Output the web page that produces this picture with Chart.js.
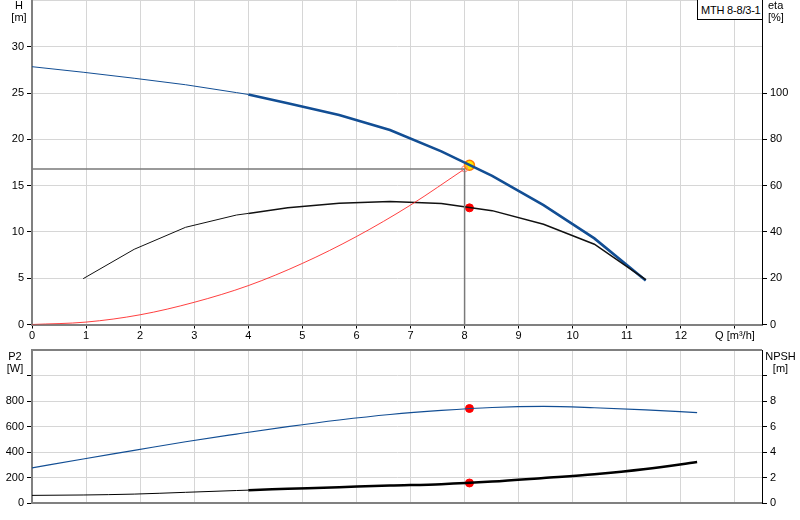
<!DOCTYPE html>
<html><head><meta charset="utf-8">
<script src="https://cdn.jsdelivr.net/npm/chart.js@4.4.1/dist/chart.umd.min.js"></script>
<style>
body{margin:0;background:#fff;}
#wrap{position:relative;width:800px;height:520px;overflow:hidden;background:#fff;font-family:"Liberation Sans",Arial,sans-serif;font-size:11px;color:#000;}
canvas{position:absolute;left:0;}
#c1{top:-6px;}
#c2{top:345px;}
.lbl{position:absolute;line-height:12px;white-space:nowrap;}
#box{position:absolute;left:697px;top:-1px;width:66px;height:21px;border:1px solid #000;background:#fff;box-sizing:border-box;padding:4px 0 0 3px;line-height:12px;white-space:nowrap;letter-spacing:-0.2px;z-index:2;}
</style></head>
<body>
<div id="wrap">
<canvas id="c1" width="800" height="351"></canvas>
<canvas id="c2" width="800" height="175"></canvas>
<div class="lbl" style="left:5px;top:-1px;width:28px;text-align:center;">H<br>[m]</div>
<div class="lbl" style="left:768px;top:-1px;">eta<br>[%]</div>
<div class="lbl" style="left:0px;top:350px;width:30px;text-align:center;">P2<br>[W]</div>
<div class="lbl" style="left:764px;top:350px;width:33px;text-align:center;">NPSH<br>[m]</div>
<div id="box">MTH 8-8/3-1</div>
</div>
<script>
// ---- data ----
const xTickValues = [0,1,2,3,4,5,6,7,8,9,10,11,12,13];
const xTickLabels = ['0','1','2','3','4','5','6','7','8','9','10','11','12','Q [m³/h]'];

const headQ = [0,0.946,1.89,2.84,3.78,4.0,4.73,5.68,6.62,7.57,8.51,9.46,10.4,11.35];
const headH = [27.85,27.25,26.6,25.9,25.05,24.85,23.9,22.63,21.0,18.7,16.05,12.9,9.3,4.75];

const etaQ = [0.946,1.89,2.84,3.78,4.0,4.73,5.68,6.62,7.57,8.51,9.46,10.4,11.35];
const etaV = [19.8,32.5,42.0,47.3,48.0,50.4,52.4,53.2,52.3,49.2,43.3,34.7,19.4];

const sysQ = [0,1,2,3,4,5,6,7,8.0];
const sysH = [0,0.26,1.05,2.4,4.2,6.6,9.5,12.9,16.8];

const guideQ = [0,8.0,8.0];
const guideH = [16.8,16.8,0];

const p2Q = [0,0.946,1.89,2.84,3.78,4.73,5.68,6.62,7.57,8.51,9.46,10.4,11.35,12.3];
const p2V = [278,347,414,482,542,600,652,695,727,750,758,748,732,710];

const npshQ = [0,0.946,1.89,2.84,3.78,4.0,4.73,5.68,6.62,7.57,8.51,9.46,10.4,11.35,12.3];
const npshV = [0.62,0.65,0.72,0.86,1.0,1.03,1.13,1.26,1.39,1.5,1.7,1.98,2.27,2.68,3.23];

const dutyQ = [8.09];
const dutyH = [17.2];
const dutyEta = [50.4];
const dutyP2 = [742];
const dutyNPSH = [1.59];

// ---- helpers ----
const pts = (xs, ys) => xs.map((x,i)=>({x:x, y:ys[i]}));
const font = {family:'"Liberation Sans", Arial, sans-serif', size:11};
const gridCol = '#d6d6d6';
const clear = 'rgba(0,0,0,0)';
const thick = w => ctx => ctx.p0.parsed.x >= 3.99 ? w : 1;
const noPad = s => { s.paddingTop = 0; s.paddingBottom = 0; s.paddingLeft = 0; s.paddingRight = 0; };
const base = {responsive:false, animation:false, events:[], devicePixelRatio:1,
  plugins:{legend:{display:false}, tooltip:{enabled:false}}};

const xScale = (showLabels, h) => ({
  type:'linear', min:0, max:13.5,
  afterBuildTicks: s => { s.ticks = xTickValues.map(v=>({value:v})); },
  ticks:{display:showLabels, font, color:'#000', padding:1, maxRotation:0, autoSkip:false,
    callback: (v) => { const i = xTickValues.indexOf(v); return i>=0 ? xTickLabels[i] : ''; }},
  grid:{color: c => (c.tick && c.tick.value===0) ? clear : gridCol, tickColor:'#000', tickLength:4, drawTicks:showLabels},
  border:{color:'#808080', width:2},
  afterFit: s => { s.height = h; noPad(s); }
});

// ---- top chart ----
new Chart(document.getElementById('c1'), {
  type:'line',
  data:{datasets:[
    {data:pts(guideQ,guideH), yAxisID:'yH', borderColor:'#7a7a7a', borderWidth:1.5, pointRadius:0, tension:0},
    {data:pts(sysQ,sysH), yAxisID:'yH', borderColor:'rgba(255,30,30,0.85)', borderWidth:1,
      pointRadius: c => c.dataIndex===sysQ.length-1 ? 3 : 0, pointBackgroundColor:clear,
      pointBorderColor:'rgba(255,120,120,0.9)', pointBorderWidth:1, cubicInterpolationMode:'monotone'},
    {data:pts(etaQ,etaV), yAxisID:'yEta', borderColor:'#111', borderWidth:1, segment:{borderWidth:thick(1.5)},
      pointRadius:0, tension:0},
    {data:pts(headQ,headH), yAxisID:'yH', borderColor:'#124e94', borderWidth:1, segment:{borderWidth:thick(2.6)},
      pointRadius:0, tension:0},
    {data:pts(dutyQ,dutyEta), yAxisID:'yEta', showLine:false, pointRadius:4, pointBackgroundColor:'#ff0000', pointBorderColor:'#ff0000'},
    {data:pts(dutyQ,dutyH), yAxisID:'yH', showLine:false, pointRadius:5, pointBackgroundColor:'#ffe800', pointBorderColor:'#ff7a00', pointBorderWidth:1.5}
  ]},
  options:Object.assign({}, base, {
    layout:{padding:{top:0,left:0,right:0,bottom:0}},
    scales:{
      x: xScale(true, 20.5),
      yH:{position:'left', min:0, max:35,
        ticks:{stepSize:5, font, color:'#000', padding:3, callback: v => v>30 ? '' : v},
        grid:{color: c => (c.tick && c.tick.value===0) ? clear : gridCol,
          tickColor: c => (c.tick && c.tick.value>30) ? clear : '#000', tickLength:5},
        border:{color:'#808080', width:2},
        afterFit: s => { s.width = 32; noPad(s); }},
      yEta:{position:'right', min:0, max:140,
        ticks:{stepSize:20, font, color:'#000', padding:3, callback: v => v>100 ? '' : v},
        grid:{drawOnChartArea:false, tickColor: c => (c.tick && c.tick.value>100) ? clear : '#000', tickLength:5},
        border:{color:'#000', width:1},
        afterFit: s => { s.width = 38; noPad(s); }}
    }
  })
});

// ---- bottom chart ----
new Chart(document.getElementById('c2'), {
  type:'line',
  data:{datasets:[
    {data:pts(p2Q,p2V), yAxisID:'yP', borderColor:'#124e94', borderWidth:1.2, pointRadius:0, cubicInterpolationMode:'monotone'},
    {data:pts(npshQ,npshV), yAxisID:'yN', borderColor:'#000', borderWidth:1, segment:{borderWidth:thick(2.5)},
      pointRadius:0, cubicInterpolationMode:'monotone'},
    {data:pts(dutyQ,dutyP2), yAxisID:'yP', showLine:false, pointRadius:4, pointBackgroundColor:'#ff0000', pointBorderColor:'#ff0000'},
    {data:pts(dutyQ,dutyNPSH), yAxisID:'yN', showLine:false, pointRadius:4, pointBackgroundColor:'#ff0000', pointBorderColor:'#ff0000'}
  ]},
  options:Object.assign({}, base, {
    layout:{padding:{top:5,left:0,right:0,bottom:0}},
    scales:{
      x: xScale(false, 16.7),
      yP:{position:'left', min:0, max:1200,
        ticks:{stepSize:200, font, color:'#000', padding:3, callback: v => v>800 ? '' : v},
        grid:{color: c => !c.tick ? gridCol : (c.tick.value===0 ? clear : (c.tick.value===1200 ? '#808080' : gridCol)),
          lineWidth: c => (c.tick && c.tick.value===1200) ? 2 : 1,
          tickColor: c => (c.tick && c.tick.value>1000) ? clear : '#000', tickLength:5},
        border:{color:'#808080', width:2},
        afterFit: s => { s.width = 32; noPad(s); }},
      yN:{position:'right', min:0, max:12,
        ticks:{stepSize:2, font, color:'#000', padding:3, callback: v => v>8 ? '' : v},
        grid:{drawOnChartArea:false, tickColor: c => (c.tick && c.tick.value>10) ? clear : '#000', tickLength:5},
        border:{color:'#000', width:1},
        afterFit: s => { s.width = 38; noPad(s); }}
    }
  })
});
</script>
</body></html>
